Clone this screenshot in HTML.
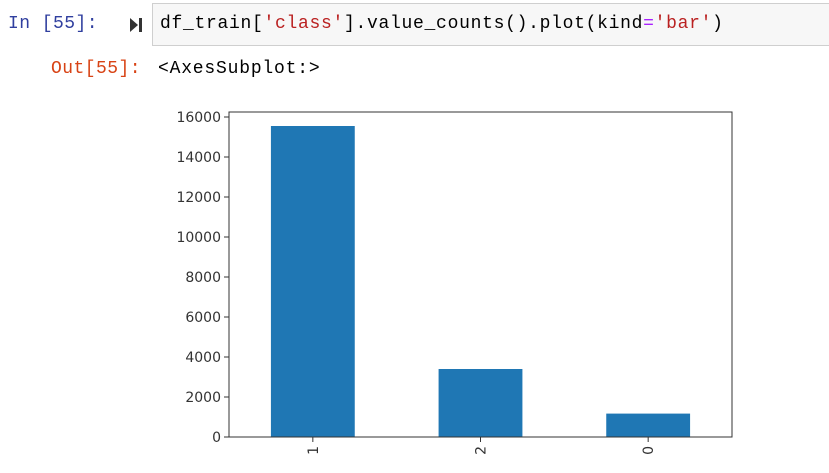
<!DOCTYPE html>
<html><head><meta charset="utf-8"><style>
body{margin:0;width:829px;height:473px;background:#fff;overflow:hidden;position:relative;font-family:"Liberation Mono",monospace;}
.prompt-in{position:absolute;left:8px;top:14px;font-size:18px;letter-spacing:0.45px;color:#303f9f;}
.runicon{position:absolute;left:130px;top:17px;}
.cell{position:absolute;left:152px;top:3px;width:690px;height:43px;background:#f7f7f7;border:1px solid #cfcfcf;box-sizing:border-box;}
.code{position:absolute;left:160px;top:14px;font-size:18px;letter-spacing:0.7px;color:#000;white-space:pre;}
.s{color:#ba2121}.o{color:#aa22ff}
.prompt-out{position:absolute;left:51px;top:59px;font-size:18px;letter-spacing:0.45px;color:#d84315;}
.outtext{position:absolute;left:158px;top:59px;font-size:18px;letter-spacing:0.8px;color:#000;}
svg#chart{position:absolute;left:0;top:0;}
</style></head><body>
<div class="prompt-in">In [55]:</div>
<svg class="runicon" width="12" height="16"><polygon points="0,1 8,8 0,15" fill="#333"/><rect x="9" y="1" width="3" height="14" fill="#333"/></svg>
<div class="cell"></div>
<div class="code">df_train[<span class="s">'class'</span>].value_counts().plot(kind<span class="o">=</span><span class="s">'bar'</span>)</div>
<div class="prompt-out">Out[55]:</div>
<div class="outtext">&lt;AxesSubplot:&gt;</div>
<svg id="chart" width="829" height="473"></svg>
<script>
const categories=["1","2","0"];
const counts=[15550,3400,1170];
const yTicks=[0,2000,4000,6000,8000,10000,12000,14000,16000];
const L=229,R=732,T=112,B=437;
const ymax=16250;
const ys=v=>B-(v/ymax)*(B-T);
const band=(R-L)/categories.length;
const xc=i=>L+band*(i+0.5);
const svg=document.getElementById('chart');
const NS='http://www.w3.org/2000/svg';
function mk(t,a){const e=document.createElementNS(NS,t);for(const k in a)e.setAttribute(k,a[k]);svg.appendChild(e);return e;}
counts.forEach((v,i)=>{
  const r=mk('rect',{x:xc(i)-band/4,y:ys(v),width:band/2,height:B-ys(v),fill:'#1f77b4'});
  
  
});
yTicks.forEach(t=>{
  const y=ys(t);
  const l=mk('line',{x1:L-5,x2:L,y1:y,y2:y,stroke:'#333','stroke-width':1});
  
  
  const tx=mk('text',{x:L-8,y:y+5,'text-anchor':'end','font-size':'14','font-family':'DejaVu Sans, sans-serif',fill:'#333'});
  tx.textContent=t;
  
  
});
categories.forEach((c,i)=>{
  const x=xc(i);
  const l=mk('line',{x1:x,x2:x,y1:B,y2:B+5,stroke:'#333','stroke-width':1});
  
  
  const tx=mk('text',{x:0,y:0,'text-anchor':'end','font-size':'14','font-family':'DejaVu Sans, sans-serif',fill:'#333',transform:`translate(${x+5},${B+9}) rotate(-90)`});
  tx.textContent=c;
  
  
});
const frame=mk('rect',{x:L,y:T,width:R-L,height:B-T,fill:'none',stroke:'#333','stroke-width':1});


</script>
</body></html>
